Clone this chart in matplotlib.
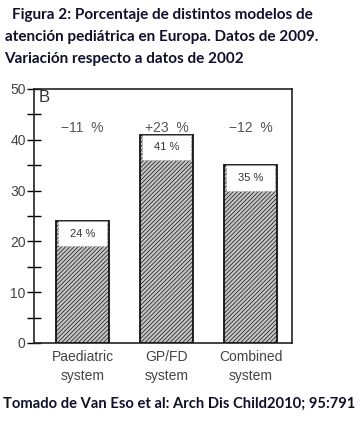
import matplotlib
matplotlib.use('Agg')
import matplotlib.pyplot as plt
import numpy as np

# data
categories = ['Paediatric\nsystem', 'GP/FD\nsystem', 'Combined\nsystem']
values = [24, 41, 35]
value_labels = ['24 %', '41 %', '35 %']
change_labels = ['\u221211  %', '+23  %', '\u221212  %']
yticks = [0, 10, 20, 30, 40, 50]

title_lines = ['Figura 2: Porcentaje de distintos modelos de',
               'atención pediátrica en Europa. Datos de 2009.',
               'Variación respecto a datos de 2002']
source = 'Tomado de Van Eso et al: Arch Dis Child2010; 95:791'

plt.rcParams['hatch.linewidth'] = 0.5
plt.rcParams['hatch.color'] = '#666666'

W, H = 364, 421
fig = plt.figure(figsize=(W / 100, H / 100), dpi=100)
ax = fig.add_axes([34 / W, 1 - 343 / H, (292 - 34) / W, (343 - 89) / H])

x = np.arange(len(categories))
width = 0.63
box_h = 5

ax.bar(x, values, width=width, color='#c4c4c4', edgecolor='#111111',
       hatch='////////', linewidth=1.3, zorder=2)
# white label box at top of each bar
ax.bar(x, [box_h] * len(values), bottom=np.array(values) - box_h, width=width * 0.92,
       color='white', edgecolor='#999999', linestyle=':', linewidth=0.8, zorder=3)
for xi, v, lab in zip(x, values, value_labels):
    ax.text(xi, v - box_h / 2, lab, ha='center', va='center', fontsize=8,
            color='#333333', family='Liberation Sans', zorder=4)
for xi, lab in zip(x, change_labels):
    ax.text(xi, 42.3, lab, ha='center', va='center', fontsize=10,
            color='#555555', family='Liberation Sans')
ax.text(-0.52, 48.3, 'B', ha='left', va='center', fontsize=12,
        color='#333333', family='Liberation Sans')

ax.set_xlim(-0.577, 2.494)
ax.set_ylim(0, 50)
ax.set_yticks(yticks)
ax.set_yticks([5, 15, 25, 35, 45], minor=True)
ax.tick_params(axis='y', which='both', direction='inout', length=10, width=1.0,
               labelsize=10, labelcolor='#444444', pad=1)
ax.set_xticks(x)
ax.set_xticklabels(categories, fontsize=10, color='#444444', family='Liberation Sans',
                   linespacing=1.45)
ax.tick_params(axis='x', length=0, pad=5)
for lab in ax.get_yticklabels():
    lab.set_family('Liberation Sans')
for s in ax.spines.values():
    s.set_linewidth(1.2)
    s.set_color('#222222')

for i, (line, x0) in enumerate(zip(title_lines, [12, 5, 4])):
    fig.text(x0 / W, 1 - (15 + 22 * i) / H, line, ha='left', va='center', fontsize=11,
             fontweight='bold', color='#10102a', family='Lato')
fig.text(3 / W, 1 - 404 / H, source, ha='left', va='center', fontsize=10.6,
         fontweight='bold', color='#10102a', family='Lato')

fig.savefig('out.png', dpi=100)
